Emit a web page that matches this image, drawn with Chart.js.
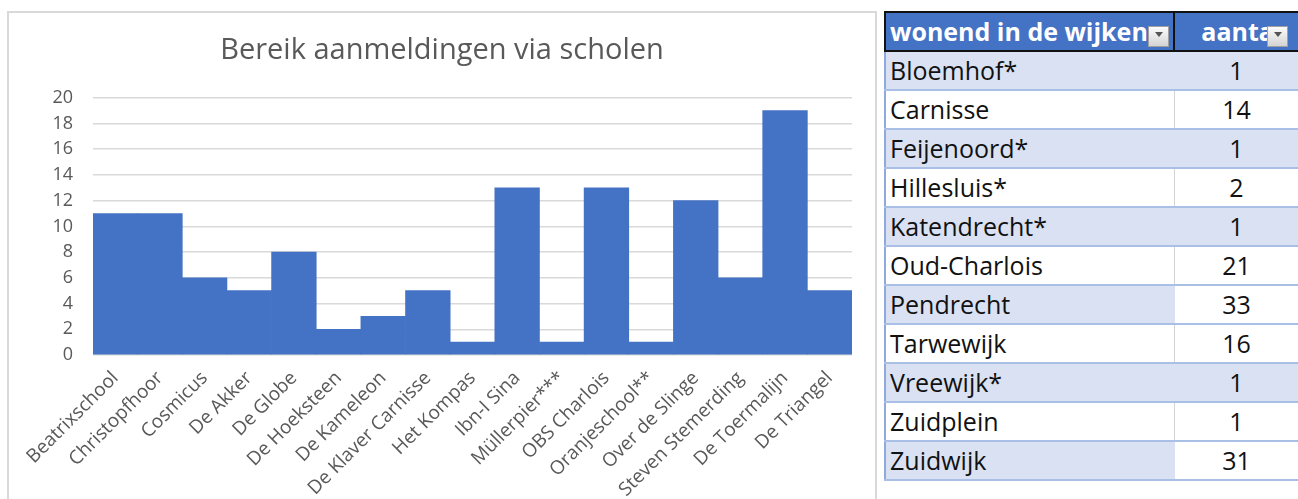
<!DOCTYPE html>
<html>
<head>
<meta charset="utf-8">
<script src="https://cdn.jsdelivr.net/npm/chart.js@4/dist/chart.umd.min.js"></script>
<style>
  html, body { margin: 0; padding: 0; background: #ffffff; overflow: hidden; }
  body { width: 1298px; height: 499px; position: relative; font-family: "Open Sans", sans-serif; }
  #chartBox { position: absolute; left: 7px; top: 11px; width: 866px; height: 486px; border: 2px solid #d9d9d9; }
  #tbl { position: absolute; left: 884px; top: 11px; border-collapse: collapse; table-layout: fixed; font-size: 25px; color: #111; }
  #tbl td, #tbl th { height: 37px; padding: 0 0 0 4px; white-space: nowrap; overflow: hidden; line-height: 37px; }
  #tbl th { background: #4472c4; color: #fff; font-weight: bold; text-align: left; border-top: 2px solid #111; border-bottom: 2px solid #111; position: relative; }
  #tbl th.c1 { border-left: 2px solid #111; border-right: 2px solid #111; }
  #tbl th.c2 { text-align: left; padding-left: 26px; }
  #tbl td { border-bottom: 2px solid #a9bfe6; }
  #tbl td.c1 { border-left: 2px solid #8ea9db; border-right: 1px solid #d4d4d4; }
  #tbl td.c2 { text-align: center; padding: 0; }
  #tbl tr.band td { background: #d9e1f2; }
  #tbl tr.band td.c1 { border-right: 1px solid #d9e1f2; }
  #tbl tr.band td.white { background: #ffffff; }
  .dd { position: absolute; top: 13px; width: 21px; height: 21px; background: linear-gradient(#fbfbfb, #d4d4d4); border: 1px solid #a0a0a0; box-sizing: border-box; }
  .dd:after { content: ""; position: absolute; left: 6px; top: 5px; border-left: 4px solid transparent; border-right: 4px solid transparent; border-top: 5px solid #555; }
</style>
</head>
<body>
<div id="chartBox"><canvas id="c"></canvas></div>
<table id="tbl">
  <colgroup><col style="width:294px"><col style="width:128px"></colgroup>
  <thead><tr><th class="c1">wonend in de wijken<span class="dd" style="left:262px"></span></th><th class="c2">aanta<span class="dd" style="left:92px"></span></th></tr></thead>
  <tbody id="tb"></tbody>
</table>
<script>
const schools = ["Beatrixschool","Christopfhoor","Cosmicus","De Akker","De Globe","De Hoeksteen","De Kameleon","De Klaver Carnisse","Het Kompas","Ibn-I Sina","Müllerpier***","OBS Charlois","Oranjeschool**","Over de Slinge","Steven Stemerding","De Toermalijn","De Triangel"];
const aanmeldingen = [11, 11, 6, 5, 8, 2, 3, 5, 1, 13, 1, 13, 1, 12, 6, 19, 5];
const yMin = 0, yMax = 20, yStep = 2;
const chartTitle = "Bereik aanmeldingen via scholen";

const wijken = ["Bloemhof*","Carnisse","Feijenoord*","Hillesluis*","Katendrecht*","Oud-Charlois","Pendrecht","Tarwewijk","Vreewijk*","Zuidplein","Zuidwijk"];
const aantal = [1, 14, 1, 2, 1, 21, 33, 16, 1, 1, 31];
const whiteCountCells = ["Pendrecht","Zuidwijk"];

const tb = document.getElementById('tb');
wijken.forEach((w, i) => {
  const tr = document.createElement('tr');
  if (i % 2 === 0) tr.className = 'band';
  const a = document.createElement('td'); a.className = 'c1'; a.textContent = w;
  const b = document.createElement('td'); b.className = 'c2' + (whiteCountCells.includes(w) ? ' white' : ''); b.textContent = aantal[i];
  tr.appendChild(a); tr.appendChild(b); tb.appendChild(tr);
});

new Chart(document.getElementById('c'), {
  type: 'bar',
  data: { labels: schools, datasets: [{ data: aanmeldingen, backgroundColor: '#4472c4', borderWidth: 0, barPercentage: 1, categoryPercentage: 1 }] },
  options: {
    responsive: true, maintainAspectRatio: false, animation: false,
    layout: { padding: { left: 23, right: 23, top: 0, bottom: 0 } },
    plugins: {
      legend: { display: false }, tooltip: { enabled: false },
      title: { display: true, text: chartTitle, color: '#595959', font: { family: 'Open Sans', size: 29, weight: 'normal' }, padding: { top: 20, bottom: 30 } }
    },
    scales: {
      y: {
        min: yMin, max: yMax,
        ticks: { stepSize: yStep, color: '#595959', font: { family: 'Open Sans', size: 18 }, padding: 20 },
        grid: { color: '#d9d9d9', lineWidth: 1.5, drawTicks: false },
        border: { display: false },
        afterFit: s => { s.width = 61; }
      },
      x: {
        ticks: { color: '#595959', font: { family: 'Open Sans', size: 19 }, minRotation: 45, maxRotation: 45, autoSkip: false, padding: 12 },
        grid: { display: false, drawTicks: false },
        border: { display: false },
        afterFit: s => { s.height = 144; }
      }
    }
  }
});
</script>
</body>
</html>
